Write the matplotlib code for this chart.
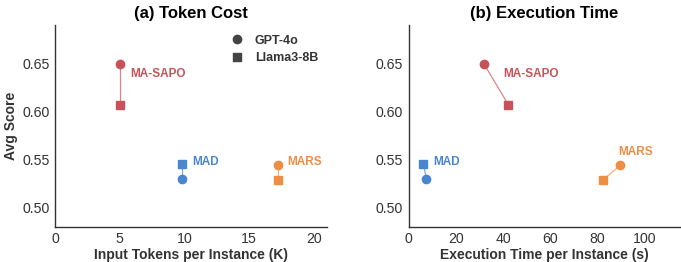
import matplotlib
matplotlib.use("Agg")
import matplotlib.pyplot as plt
from matplotlib.lines import Line2D

plt.rcParams["font.family"] = ["Liberation Sans", "DejaVu Sans"]

methods = ["MA-SAPO", "MAD", "MARS"]
colors = ["#C8525A", "#4A86D0", "#EE8E45"]
tokens_gpt = [5.0, 9.8, 17.2]
tokens_llama = [5.0, 9.8, 17.2]
time_gpt = [32.0, 7.5, 89.6]
time_llama = [42.2, 6.3, 82.3]
score_gpt = [0.649, 0.530, 0.544]
score_llama = [0.607, 0.545, 0.529]

# label anchors (x, y) per panel
tok_label_pos = [(5.8, 0.639), (10.6, 0.547), (17.9, 0.547)]
time_label_pos = [(40.1, 0.639), (10.5, 0.547), (88.6, 0.558)]

fig = plt.figure(figsize=(6.81, 2.62), dpi=100)
ax1 = fig.add_axes([0.081, 0.134, 0.399, 0.771])
ax2 = fig.add_axes([0.600, 0.134, 0.399, 0.771])


def draw(ax, xg, xl, label_pos):
    for i, m in enumerate(methods):
        c = colors[i]
        ax.plot([xg[i], xl[i]], [score_gpt[i], score_llama[i]], color=c,
                lw=0.9, alpha=0.7, zorder=2)
        ax.plot(xg[i], score_gpt[i], "o", color=c, ms=6.0, zorder=3)
        ax.plot(xl[i], score_llama[i], "s", color=c, ms=5.8, zorder=3)
        ax.text(label_pos[i][0], label_pos[i][1], m, color=c, fontsize=8.5,
                fontweight="bold", ha="left", va="center")
    ax.set_ylim(0.48, 0.69)
    ax.set_yticks([0.50, 0.55, 0.60, 0.65])
    ax.set_yticklabels(["0.50", "0.55", "0.60", "0.65"])
    for s in ["top", "right"]:
        ax.spines[s].set_visible(False)
    for s in ["left", "bottom"]:
        ax.spines[s].set_color("#333333")
        ax.spines[s].set_linewidth(1.0)
    ax.tick_params(length=0, labelsize=10.2, colors="#333333", pad=4)


draw(ax1, tokens_gpt, tokens_llama, tok_label_pos)
ax1.set_xlim(0, 21)
ax1.set_xticks([0, 5, 10, 15, 20])
ax1.set_title("(a) Token Cost", fontsize=12, fontweight="bold", pad=5)
ax1.set_xlabel("Input Tokens per Instance (K)", fontsize=10, fontweight="bold",
               labelpad=1, color="#333333")
ax1.set_ylabel("Avg Score", fontsize=10, fontweight="bold", labelpad=3,
               color="#333333")

handles = [
    Line2D([], [], marker="o", color="#444444", ls="", ms=6.0, label="GPT-4o"),
    Line2D([], [], marker="s", color="#444444", ls="", ms=5.8, label="Llama3-8B"),
]
ax1.legend(handles=handles, loc="upper right", frameon=False,
           prop={"weight": "bold", "size": 9}, handletextpad=0.9,
           borderaxespad=0.3, labelspacing=0.45, handlelength=1.0,
           bbox_to_anchor=(1.0, 0.995), labelcolor="#333333")

draw(ax2, time_gpt, time_llama, time_label_pos)
ax2.set_xlim(0, 115)
ax2.set_xticks([0, 20, 40, 60, 80, 100])
ax2.set_title("(b) Execution Time", fontsize=12, fontweight="bold", pad=5)
ax2.set_xlabel("Execution Time per Instance (s)", fontsize=10, fontweight="bold",
               labelpad=1, color="#333333")

fig.savefig("out.png", dpi=100)
